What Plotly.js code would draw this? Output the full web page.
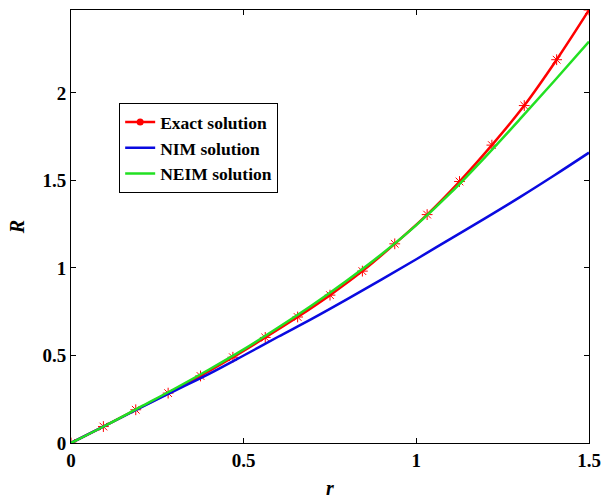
<!DOCTYPE html>
<html>
<head>
<meta charset="utf-8">
<script src="https://cdn.plot.ly/plotly-3.0.1.min.js"></script>
<style>html,body{margin:0;padding:0;background:#fff;}#chart{width:601px;height:500px;}</style>
</head>
<body>
<div id="chart"></div>
<script>
// Exact solution (sampled where the asterisk markers are)
const rExact = [0, 0.09375, 0.1875, 0.28125, 0.375, 0.46875, 0.5625, 0.65625, 0.75, 0.84375, 0.9375, 1.03125, 1.125, 1.21875, 1.3125, 1.40625, 1.5];
const exactR = [0, 0.094, 0.19, 0.285, 0.383, 0.49, 0.603, 0.72, 0.845, 0.982, 1.138, 1.305, 1.494, 1.702, 1.928, 2.19, 2.474];
// NIM and NEIM solutions
const rApprox = [0, 0.1, 0.2, 0.3, 0.4, 0.5, 0.6, 0.7, 0.8, 0.9, 1.0, 1.1, 1.2, 1.3, 1.4, 1.5];
const nimR  = [0, 0.1, 0.2, 0.298, 0.395, 0.5, 0.607, 0.712, 0.822, 0.935, 1.05, 1.168, 1.285, 1.405, 1.53, 1.659];
const neimR = [0, 0.1, 0.205, 0.31, 0.42, 0.535, 0.66, 0.79, 0.93, 1.08, 1.245, 1.43, 1.635, 1.85, 2.07, 2.293];
const xTicks = [0, 0.5, 1, 1.5];
const xTickText = ['0', '0.5', '1', '1.5'];
const yTicks = [0, 0.5, 1, 1.5, 2];
const yTickText = ['0', '0.5', '1', '1.5', '2'];
const names = ['Exact solution', 'NIM solution', 'NEIM solution'];

const serif = 'Liberation Serif, Times New Roman, serif';
const red = '#ff0000', blue = '#0a0ae0', green = '#22e022';

const traces = [
  {x: rExact, y: exactR, mode: 'lines+markers', showlegend: false,
   line: {color: red, width: 2.5, shape: 'spline'},
   marker: {symbol: 'asterisk-open', size: 9, color: red, line: {color: red, width: 1}}},
  {x: rApprox, y: nimR, mode: 'lines', name: names[1], legendrank: 2,
   line: {color: blue, width: 2.5, shape: 'spline'}},
  {x: rApprox, y: neimR, mode: 'lines', name: names[2], legendrank: 3,
   line: {color: green, width: 2.5, shape: 'spline'}},
  {x: [null], y: [null], mode: 'lines+markers', name: names[0], legendrank: 1,
   line: {color: red, width: 2.5}, marker: {symbol: 'circle', size: 7, color: red}}
];

const axisCommon = {
  showline: true, linecolor: '#000', linewidth: 1, mirror: 'ticks',
  ticks: 'inside', ticklen: 5, tickcolor: '#000', showgrid: false, zeroline: false,
  tickfont: {family: serif, size: 19, color: '#000', weight: 'bold'}
};

const layout = {
  width: 601, height: 500,
  margin: {l: 71, r: 12, t: 10, b: 57},
  paper_bgcolor: '#fff', plot_bgcolor: '#fff',
  xaxis: Object.assign({}, axisCommon, {
    range: [0, 1.5], tickvals: xTicks, ticktext: xTickText,
    title: {text: 'r', standoff: 11, font: {family: serif, size: 20, color: '#000', weight: 'bold', style: 'italic'}}
  }),
  yaxis: Object.assign({}, axisCommon, {
    range: [0, 2.474], tickvals: yTicks, ticktext: yTickText,
    title: {text: 'R', standoff: 12, font: {family: serif, size: 20, color: '#000', weight: 'bold', style: 'italic'}}
  }),
  legend: {
    x: 0.093, y: 0.785, xanchor: 'left', yanchor: 'top',
    bgcolor: '#fff', bordercolor: '#000', borderwidth: 1,
    font: {family: serif, size: 17.5, color: '#000', weight: 'bold'},
    tracegroupgap: 0, itemwidth: 30
  },
  showlegend: true
};

Plotly.newPlot('chart', traces, layout, {displayModeBar: false, staticPlot: true});
</script>
</body>
</html>
